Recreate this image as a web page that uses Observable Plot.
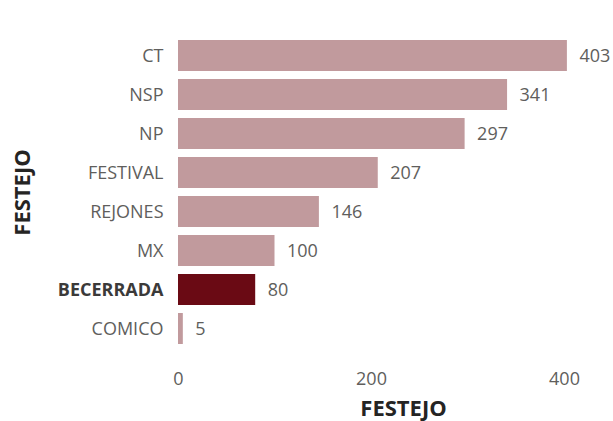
<!DOCTYPE html>
<html>
<head>
<meta charset="utf-8">
<script src="https://cdn.jsdelivr.net/npm/d3@7"></script>
<script src="https://cdn.jsdelivr.net/npm/@observablehq/plot@0.6"></script>
<style>
  html, body { margin: 0; padding: 0; background: #fff; }
  #chart svg { font-family: "Open Sans", sans-serif; }
</style>
</head>
<body>
<div id="chart"></div>
<script>
const categories = ["CT", "NSP", "NP", "FESTIVAL", "REJONES", "MX", "BECERRADA", "COMICO"];
const values = [403, 341, 297, 207, 146, 100, 80, 5];
const highlighted = "BECERRADA";
const xTicks = [0, 200, 400];

const data = categories.map((c, i) => ({festejo: c, value: values[i]}));

const chart = Plot.plot({
  width: 613,
  height: 421,
  marginLeft: 178,
  marginRight: 49,
  marginTop: 31,
  marginBottom: 68,
  style: {fontFamily: "Open Sans, sans-serif", fontSize: "18px", color: "#605E5C", background: "#fff"},
  x: {domain: [0, 400], ticks: xTicks, tickSize: 0, tickPadding: 19, label: "FESTEJO", labelAnchor: "center", labelOffset: 62},
  y: {domain: categories, padding: 0.2, tickSize: 0, tickPadding: 15, label: "FESTEJO", labelAnchor: "center", labelOffset: 164},
  marks: [
    Plot.gridX(xTicks, {stroke: "#bdbdbd", strokeOpacity: 1, strokeDasharray: "1.5,3.5", y1: 27, y2: 358}),
    Plot.barX(data, {x: "value", y: "festejo", fill: d => d.festejo === highlighted ? "#6A0A14" : "#C19A9D"}),
    Plot.text(data, {x: "value", y: "festejo", text: d => String(d.value), textAnchor: "start", dx: 12, fill: "#605E5C", fontSize: 18})
  ]
});

document.getElementById("chart").appendChild(chart);

// style axis titles and highlighted tick label
d3.select(chart).selectAll('[aria-label="x-axis label"] text, [aria-label="y-axis label"] text')
  .style("font-weight", "bold").style("font-size", "22px").style("fill", "#252423");
d3.select(chart).selectAll('[aria-label="x-axis label"] text')
  .each(function() { this.textContent = this.textContent.replace(/\s*[→←↑↓]\s*/g, "").trim(); })
  .attr("dx", 32);
d3.select(chart).selectAll('[aria-label="y-axis label"] text')
  .each(function() { this.textContent = this.textContent.replace(/\s*[→←↑↓]\s*/g, "").trim(); });
d3.select(chart).selectAll('[aria-label="y-axis tick label"] text')
  .filter(function() { return this.textContent === highlighted; })
  .style("font-weight", "bold").style("fill", "#3b3a39");
</script>
</body>
</html>
